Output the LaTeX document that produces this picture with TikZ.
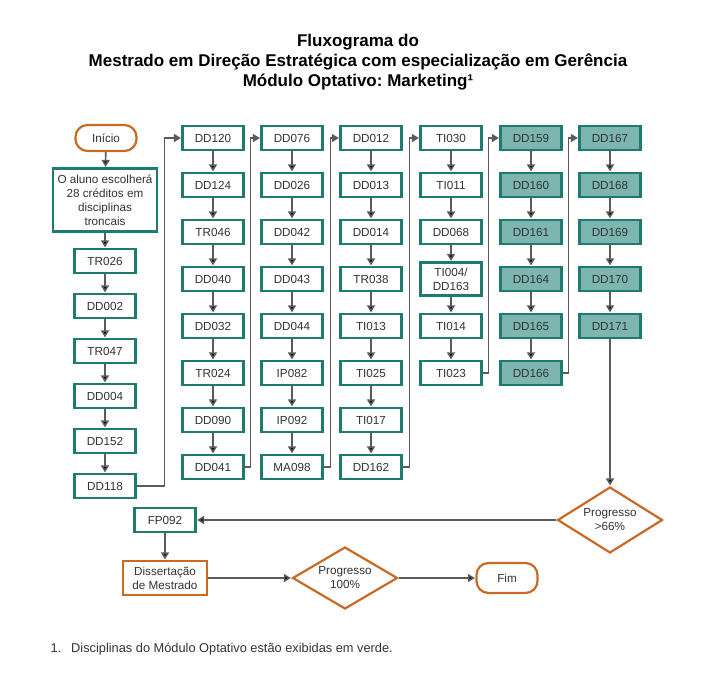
\documentclass[tikz,border=0pt]{standalone}
\usepackage{fontspec}
\setmainfont{Liberation Sans}
\frenchspacing
\usetikzlibrary{arrows.meta,shapes.geometric,positioning}
\definecolor{dg}{HTML}{1E7B70}
\definecolor{lg}{HTML}{7DB6B1}
\definecolor{og}{HTML}{C86A24}
\definecolor{ln}{HTML}{5A5A5A}
\definecolor{tx}{HTML}{333333}
\tikzset{
    course/.style = {rectangle,
                    fill=white,
                    draw=dg,
                    text=tx,
                    line width=2.2pt,
                    align=center,
                    inner sep=2pt,
                    font=\fontsize{11.7}{14}\selectfont,
                    minimum width=61pt,
                    minimum height=24pt},
    optional/.style = {course,
                    fill=lg},
    terminal/.style = {rectangle,
                    rounded corners=12pt,
                    fill=white,
                    draw=og,
                    text=tx,
                    line width=2.2pt,
                    font=\fontsize{11.7}{14}\selectfont,
                    minimum width=61pt,
                    minimum height=26pt},
    decision/.style = {diamond,
                    aspect=1.6,
                    fill=white,
                    draw=og,
                    text=tx,
                    line width=2.2pt,
                    align=center,
                    inner sep=0pt,
                    font=\fontsize{11.7}{14}\selectfont,
                    minimum width=105pt,
                    minimum height=66pt},
    link/.style =   {draw=ln,
                    line width=1.6pt,
                    ->},
    >={Triangle[length=7pt,width=8pt]},
    shorten >= 0.5pt,
    node distance=47pt}

\begin{document}
\begin{tikzpicture}[x=1pt,y=-1pt]
        \useasboundingbox (0,0) rectangle (716,687);
        \node[font=\fontsize{17}{20}\selectfont\bfseries, align=center, text=black] (title) at (358,62)
            {Fluxograma do\\Mestrado em Direção Estratégica com especialização em Gerência\\Módulo Optativo: Marketing¹};
        % first column
        \node[terminal]     (inicio) at (106,138)  {Início};
        \node[course, minimum width=104pt, minimum height=63pt] (aluno) at (105,200)
            {O aluno escolherá\\28 créditos em\\disciplinas\\troncais};
        \node[course]       (tr026) at (105,261)   {TR026};
        \begin{scope}[node distance=45pt]
                \node[course]       (dd002) [below of=tr026]  {DD002};
                \node[course]       (tr047) [below of=dd002]  {TR047};
                \node[course]       (dd004) [below of=tr047]  {DD004};
                \node[course]       (dd152) [below of=dd004]  {DD152};
                \node[course]       (dd118) [below of=dd152]  {DD118};
        \end{scope}
        % second column
        \node[course]       (dd120) at (213,138)   {DD120};
        \node[course]       (dd124) [below of=dd120]  {DD124};
        \node[course]       (tr046) [below of=dd124]  {TR046};
        \node[course]       (dd040) [below of=tr046]  {DD040};
        \node[course]       (dd032) [below of=dd040]  {DD032};
        \node[course]       (tr024) [below of=dd032]  {TR024};
        \node[course]       (dd090) [below of=tr024]  {DD090};
        \node[course]       (dd041) [below of=dd090]  {DD041};
        % third column
        \node[course]       (dd076) at (292,138)   {DD076};
        \node[course]       (dd026) [below of=dd076]  {DD026};
        \node[course]       (dd042) [below of=dd026]  {DD042};
        \node[course]       (dd043) [below of=dd042]  {DD043};
        \node[course]       (dd044) [below of=dd043]  {DD044};
        \node[course]       (ip082) [below of=dd044]  {IP082};
        \node[course]       (ip092) [below of=ip082]  {IP092};
        \node[course]       (ma098) [below of=ip092]  {MA098};
        % fourth column
        \node[course]       (dd012) at (371,138)   {DD012};
        \node[course]       (dd013) [below of=dd012]  {DD013};
        \node[course]       (dd014) [below of=dd013]  {DD014};
        \node[course]       (tr038) [below of=dd014]  {TR038};
        \node[course]       (ti013) [below of=tr038]  {TI013};
        \node[course]       (ti025) [below of=ti013]  {TI025};
        \node[course]       (ti017) [below of=ti025]  {TI017};
        \node[course]       (dd162) [below of=ti017]  {DD162};
        % fifth column
        \node[course]       (ti030) at (451,138)   {TI030};
        \node[course]       (ti011) [below of=ti030]  {TI011};
        \node[course]       (dd068) [below of=ti011]  {DD068};
        \node[course, minimum height=33pt] (ti004) [below of=dd068]  {TI004/\\DD163};
        \node[course]       (ti014) [below of=ti004]  {TI014};
        \node[course]       (ti023) [below of=ti014]  {TI023};
        % optional columns
        \node[optional]     (dd159) at (531,138)   {DD159};
        \node[optional]     (dd160) [below of=dd159]  {DD160};
        \node[optional]     (dd161) [below of=dd160]  {DD161};
        \node[optional]     (dd164) [below of=dd161]  {DD164};
        \node[optional]     (dd165) [below of=dd164]  {DD165};
        \node[optional]     (dd166) [below of=dd165]  {DD166};
        \node[optional]     (dd167) at (610,138)   {DD167};
        \node[optional]     (dd168) [below of=dd167]  {DD168};
        \node[optional]     (dd169) [below of=dd168]  {DD169};
        \node[optional]     (dd170) [below of=dd169]  {DD170};
        \node[optional]     (dd171) [below of=dd170]  {DD171};
        % end
        \node[decision]     (prog66) at (610,520)  {Progresso\\>66\%};
        \node[course]       (fp092) at (165,520)   {FP092};
        \node[course, draw=og, minimum width=84pt, minimum height=34pt] (diss) at (165,578)
            {Dissertação\\de Mestrado};
        \node[decision, minimum height=62pt] (prog100) at (345,578) {Progresso\\100\%};
        \node[terminal, minimum height=30pt] (fim) at (507,578) {Fim};
        \node[anchor=west, text=tx, font=\fontsize{12.8}{15}\selectfont] (nota) at (47,649)
            {1.\hspace{10pt}Disciplinas do Módulo Optativo estão exibidas em verde.};
        % connectors
        \path [link]  (inicio) edge (aluno)  (aluno) edge (tr026)  (tr026) edge (dd002)
                      (dd002) edge (tr047)  (tr047) edge (dd004)  (dd004) edge (dd152)
                      (dd152) edge (dd118);
        \path [link]  (dd120) edge (dd124)  (dd124) edge (tr046)  (tr046) edge (dd040)
                      (dd040) edge (dd032)  (dd032) edge (tr024)  (tr024) edge (dd090)
                      (dd090) edge (dd041);
        \path [link]  (dd076) edge (dd026)  (dd026) edge (dd042)  (dd042) edge (dd043)
                      (dd043) edge (dd044)  (dd044) edge (ip082)  (ip082) edge (ip092)
                      (ip092) edge (ma098);
        \path [link]  (dd012) edge (dd013)  (dd013) edge (dd014)  (dd014) edge (tr038)
                      (tr038) edge (ti013)  (ti013) edge (ti025)  (ti025) edge (ti017)
                      (ti017) edge (dd162);
        \path [link]  (ti030) edge (ti011)  (ti011) edge (dd068)  (dd068) edge (ti004)
                      (ti004) edge (ti014)  (ti014) edge (ti023);
        \path [link]  (dd159) edge (dd160)  (dd160) edge (dd161)  (dd161) edge (dd164)
                      (dd164) edge (dd165)  (dd165) edge (dd166);
        \path [link]  (dd167) edge (dd168)  (dd168) edge (dd169)  (dd169) edge (dd170)
                      (dd170) edge (dd171)  (dd171) edge (prog66);
        \draw [link]  (dd118.east) -- ++(28pt,0) |- (dd120.west);
        \draw [link]  (dd041.east) -- ++(6pt,0) |- (dd076.west);
        \draw [link]  (ma098.east) -- ++(7pt,0) |- (dd012.west);
        \draw [link]  (dd162.east) -- ++(7pt,0) |- (ti030.west);
        \draw [link]  (ti023.east) -- ++(6pt,0) |- (dd159.west);
        \draw [link]  (dd166.east) -- ++(6pt,0) |- (dd167.west);
        \path [link]  (prog66) edge (fp092)  (fp092) edge (diss)
                      (diss) edge (prog100)  (prog100) edge (fim);
\end{tikzpicture}
\end{document}
